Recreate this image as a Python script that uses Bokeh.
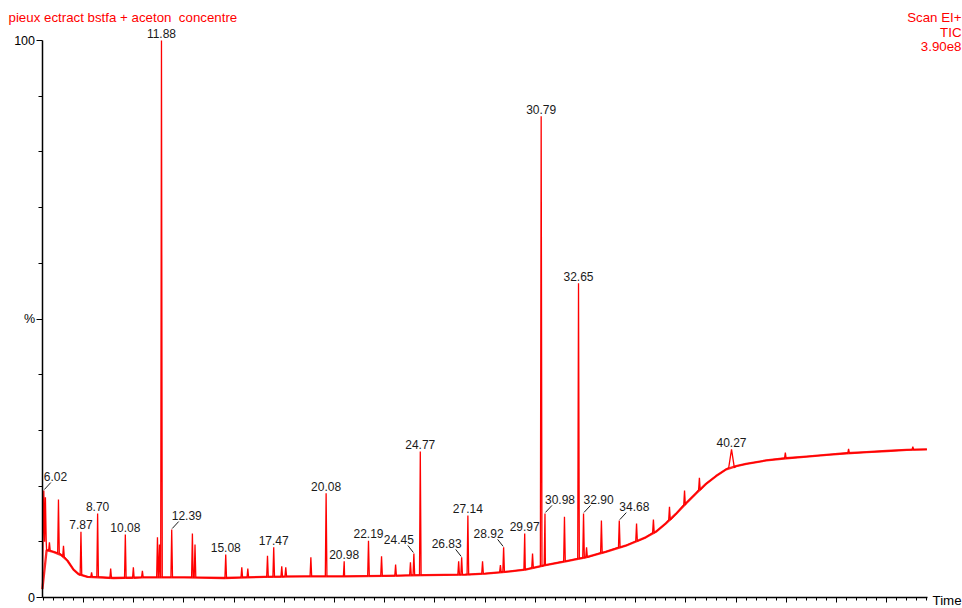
import numpy as np
from bokeh.plotting import figure
from bokeh.models import Range1d, FixedTicker, Label, LabelSet, ColumnDataSource
from bokeh.embed import file_html
from bokeh.resources import INLINE
from bokeh.core.properties import value

# ---------------- data ----------------
# baseline knots: retention time (min), intensity (%)
base_t = [5.95, 6.16, 6.5, 6.9, 7.2, 7.5, 7.75, 8.2, 9.5, 11.0, 13.0, 15.0, 17.0, 19.0,
          21.0, 23.0, 25.0, 27.0, 28.0, 29.0, 30.0, 31.0, 32.0, 33.0, 34.0, 35.0, 36.0,
          36.5, 37.0, 37.5, 38.0, 38.5, 39.0, 39.5, 40.0, 40.5, 41.0, 42.0, 43.0, 44.0,
          45.0, 46.0, 47.0, 48.0, 49.0, 50.0]
base_v = [1.5, 8.5, 8.2, 7.6, 6.6, 5.0, 4.2, 3.7, 3.5, 3.6, 3.6, 3.5, 3.7, 3.8,
          3.8, 3.9, 4.0, 4.1, 4.3, 4.6, 5.0, 5.8, 6.5, 7.2, 8.2, 9.3, 10.8,
          11.8, 13.3, 15.0, 16.9, 18.7, 20.4, 21.8, 23.0, 23.6, 24.0, 24.6, 25.0, 25.3,
          25.6, 25.9, 26.1, 26.3, 26.5, 26.6]

# peaks: apex time (min), apex intensity (%), foot intensity (%)
peak_t = [6.02, 6.10, 6.30, 6.75, 7.00, 7.87, 8.40, 8.70, 9.35, 10.08, 10.48, 10.93,
          11.68, 11.78, 11.88, 12.39, 13.42, 13.55, 15.08, 15.88, 16.18, 17.16, 17.47,
          17.87, 18.07, 19.32, 20.08, 20.98, 22.19, 22.84, 23.54, 24.28, 24.45, 24.77,
          26.68, 26.83, 27.14, 27.87, 28.76, 28.92, 29.97, 30.36, 30.79, 30.98, 31.95,
          32.65, 32.90, 33.05, 33.79, 34.68, 35.54, 36.38, 37.18, 37.93, 38.67, 40.27,
          42.95, 46.10, 49.30]
peak_h = [19.2, 18.0, 9.9, 17.6, 9.3, 11.8, 4.5, 15.1, 5.2, 11.3, 5.4, 4.8,
          10.8, 9.5, 100.0, 12.2, 11.5, 9.5, 7.7, 5.4, 5.2, 7.5, 9.0,
          5.6, 5.4, 7.2, 18.7, 6.5, 10.2, 7.4, 5.9, 6.3, 7.9, 26.2,
          6.5, 7.2, 14.7, 6.5, 5.8, 9.0, 11.5, 7.9, 86.4, 15.1, 14.5,
          56.4, 15.1, 9.0, 13.8, 13.8, 13.3, 14.0, 16.3, 19.2, 21.5, 26.6,
          26.0, 26.7, 27.1]
peak_foot = [10.0, 10.0, 8.4, 8.0, 7.3, 4.0, 3.7, 3.7, 3.5, 3.5, 3.5, 3.6,
             3.6, 3.6, 3.6, 3.6, 3.6, 3.6, 3.5, 3.6, 3.6, 3.7, 3.7,
             3.7, 3.8, 3.8, 3.8, 3.8, 3.9, 3.9, 3.9, 4.0, 4.0, 4.0,
             4.1, 4.1, 4.1, 4.3, 4.5, 4.6, 5.0, 5.3, 5.6, 5.8, 6.5,
             7.0, 7.1, 7.2, 8.0, 9.0, 10.1, 11.6, 13.9, 16.6, 19.3, 23.3,
             25.0, 25.9, 26.55]

# labelled peaks
label_t = [6.02, 7.87, 8.70, 10.08, 11.88, 12.39, 15.08, 17.47, 20.08, 20.98, 22.19,
           24.45, 24.77, 26.83, 27.14, 28.92, 29.97, 30.79, 30.98, 32.65, 32.90, 34.68, 40.27]
label_right = [6.02, 12.39, 30.98, 32.90, 34.68]   # text up-right with leader
label_left = [24.45, 26.83, 28.92]                 # text up-left with leader

x_major_ticks = [8.0, 10.5, 13.0, 15.5, 18.0, 20.5, 23.0, 25.5, 28.0, 30.5, 33.0,
                 35.5, 38.0, 40.5, 43.0, 45.5, 48.0]
y_major_ticks = [0, 50, 100]
y_minor_ticks = [10, 20, 30, 40, 60, 70, 80, 90]
y_tick_text = {0: "0", 50: "%", 100: "100"}

title_text = "pieux ectract bstfa + aceton \u00a0concentre"
header_lines = ["Scan EI+", "TIC", "3.90e8"]

# ---------------- geometry (pixels on the canvas) ----------------
X0, X1 = 5.93, 50.03          # time-axis extent
W, H = 962, 608
AX_L, AX_R, AX_T, AX_B = 41.5, 927.0, 40.0, 597.0
ppx = (AX_R - AX_L) / (X1 - X0)
ppy = (AX_B - AX_T) / 100.0
xs, xe = X0 - AX_L / ppx, X0 + (W - AX_L) / ppx
ys, ye = -(H - AX_B) / ppy, 100.0 + AX_T / ppy

def px2x(px):
    return xs + px / ppx

def py2y(py):
    return ye - py / ppy

RED = "#ff0000"
FONT = "Liberation Sans"
INK = "#1a1a1a"

p = figure(width=W, height=H, x_range=Range1d(xs, xe), y_range=Range1d(ys, ye),
           output_backend="svg", toolbar_location=None,
           min_border_left=0, min_border_right=0, min_border_top=0, min_border_bottom=0)
p.outline_line_color = None
p.grid.visible = False
p.background_fill_color = "white"
p.border_fill_color = "white"

# trace
wide = {40.27: 0.14}
pts = list(zip(base_t, base_v))
for t, h, f in zip(peak_t, peak_h, peak_foot):
    w = wide.get(t, 0.04)
    pts += [(t - w, f), (t, h), (t + w, f)]
pts.sort()
src = ColumnDataSource(dict(t=[a for a, _ in pts], v=[b for _, b in pts]))
# baseline drawn a little heavier to mimic the detector noise band
p.line(base_t, base_v, line_color=RED, line_width=2.3, line_alpha=0.85)
p.line("t", "v", source=src, line_color=RED, line_width=1.3)

# axes (drawn at fixed data locations so the frame fills the canvas)
xa = p.xaxis[0]
xa.fixed_location = 0
xa.bounds = (X0, X1)
xa.ticker = FixedTicker(ticks=x_major_ticks, minor_ticks=list(np.arange(6.0, 50.01, 0.5)))
xa.major_label_overrides = {t: "" for t in x_major_ticks}
xa.major_tick_out = 5
xa.major_tick_in = 0
xa.minor_tick_out = 3
xa.minor_tick_in = 0
xa.axis_line_width = 1.5
xa.axis_line_color = "black"
xa.major_tick_line_color = "black"
xa.minor_tick_line_color = "black"

ya = p.yaxis[0]
ya.fixed_location = X0
ya.bounds = (0, 100)
ya.ticker = FixedTicker(ticks=y_major_ticks, minor_ticks=y_minor_ticks)
ya.major_label_overrides = y_tick_text
ya.major_tick_out = 6
ya.major_tick_in = 0
ya.minor_tick_out = 4
ya.minor_tick_in = 0
ya.major_label_standoff = 1
ya.major_label_text_font = FONT
ya.major_label_text_font_size = "12.5px"
ya.major_label_text_color = "black"
ya.axis_line_width = 1.5
ya.axis_line_color = "black"
ya.major_tick_line_color = "black"
ya.minor_tick_line_color = "black"

# peak labels
hmap = dict(zip(peak_t, peak_h))

def mk(ts):
    return ColumnDataSource(dict(x=ts, y=[hmap[t] for t in ts], text=["%.2f" % t for t in ts]))

centre = [t for t in label_t if t not in label_right and t not in label_left]
common = dict(text_font=value(FONT), text_font_size=value("12px"), text_color=INK,
              text_baseline="middle")
p.add_layout(LabelSet(x="x", y="y", text="text", source=mk(centre), text_align="center",
                      y_offset=7, **common))
p.add_layout(LabelSet(x="x", y="y", text="text", source=mk(label_right), text_align="left",
                      y_offset=14, **common))
p.add_layout(LabelSet(x="x", y="y", text="text", source=mk(label_left), text_align="right",
                      y_offset=14, **common))

# leader lines
lx0, ly0, lx1, ly1 = [], [], [], []
for t in label_right:
    h = hmap[t]
    lx0.append(t + 0.5 / ppx); ly0.append(h + 1 / ppy)
    lx1.append(t + 7 / ppx); ly1.append(h + 8 / ppy)
for t in label_left:
    h = hmap[t]
    lx0.append(t - 0.5 / ppx); ly0.append(h + 1 / ppy)
    lx1.append(t - 6 / ppx); ly1.append(h + 8 / ppy)
p.segment(lx0, ly0, lx1, ly1, line_color=INK, line_width=1)

# title / header / axis name
p.add_layout(Label(x=px2x(8), y=py2y(17), text=title_text,
                   text_font=FONT, text_font_size="13.3px", text_color=RED,
                   text_align="left", text_baseline="middle"))
for s, cy in zip(header_lines, [17, 31.5, 46]):
    p.add_layout(Label(x=px2x(961), y=py2y(cy), text=s,
                       text_font=FONT, text_font_size="13.3px", text_color=RED,
                       text_align="right", text_baseline="middle"))
p.add_layout(Label(x=px2x(932), y=py2y(600), text="Time",
                   text_font=FONT, text_font_size="13.3px", text_color="black",
                   text_align="left", text_baseline="middle"))

open("out.html", "w").write(file_html(p, INLINE))
